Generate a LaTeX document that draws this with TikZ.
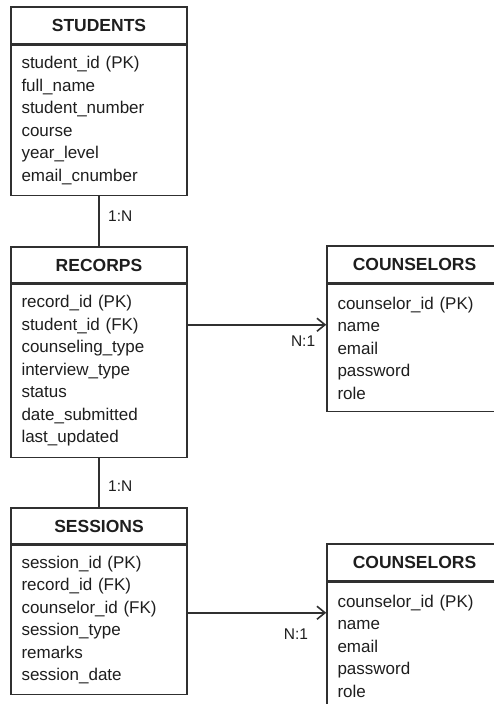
\documentclass[tikz,border=0pt]{standalone}
\usepackage{fontspec}
\setmainfont{Liberation Sans}
\usetikzlibrary{positioning,arrows.meta}

\definecolor{ink}{HTML}{1E1E1E}
\definecolor{edge}{HTML}{303030}

\tikzset{
	tablehead/.style = {draw=edge, line width=1.5pt, text=ink, minimum height=36pt,
		font=\fontsize{17.5}{21}\selectfont\bfseries, inner sep=0pt},
	tablebody/.style = {draw=edge, line width=1.5pt, text=ink, align=left,
		inner xsep=10.5pt, inner ysep=0pt, font=\fontsize{17}{22.5}\selectfont},
	link/.style = {draw=edge, line width=1.6pt},
	card/.style = {text=ink, font=\fontsize{15.5}{18}\selectfont}
}

\begin{document}
\begin{tikzpicture}[x=1pt, y=-1pt]
	\useasboundingbox (0,0) rectangle (494,704);

	% left column
	\node[tablehead, minimum width=176pt, minimum height=37pt] (students) at (99,25.5) {STUDENTS};
	\node[tablebody, text width=155pt, minimum height=150pt, below=0pt of students] (studentsAttrs)
		{student\_id (PK)\\ full\_name\\ student\_number\\ course\\ year\_level\\ email\_cnumber};

	\node[tablehead, minimum width=176pt] (recorps) at (99,265) {RECORPS};
	\node[tablebody, text width=155pt, minimum height=173pt, below=0pt of recorps] (recorpsAttrs)
		{record\_id (PK)\\ student\_id (FK)\\ counseling\_type\\ interview\_type\\ status\\ date\_submitted\\ last\_updated};

	\node[tablehead, minimum width=176pt] (sessions) at (99,526) {SESSIONS};
	\node[tablebody, text width=155pt, minimum height=149pt, below=0pt of sessions] (sessionsAttrs)
		{session\_id (PK)\\ record\_id (FK)\\ counselor\_id (FK)\\ session\_type\\ remarks\\ session\_date};

	% right column
	\node[tablehead, minimum width=175pt, minimum height=37pt] (counselorsA) at (414.5,264.5) {COUNSELORS};
	\node[tablebody, text width=154pt, minimum height=127pt, below=0pt of counselorsA] (counselorsAttrsA)
		{counselor\_id (PK)\\ name\\ email\\ password\\ role};

	\node[tablehead, minimum width=175pt, minimum height=37pt] (counselorsB) at (414.5,562.5) {COUNSELORS};
	\node[tablebody, text width=154pt, minimum height=127pt, below=0pt of counselorsB] (counselorsAttrsB)
		{counselor\_id (PK)\\ name\\ email\\ password\\ role};

	% relations
	\draw[link] (studentsAttrs) -- (recorps) node[card, midway, right, xshift=5pt, yshift=5.5pt] {1:N};
	\draw[link] (recorpsAttrs) -- (sessions) node[card, midway, right, xshift=5pt, yshift=-3pt] {1:N};

	\draw[link, -{Straight Barb[length=8pt, width=13pt]}] ([yshift=-41pt]recorpsAttrs.north east) coordinate (fromRec)
		-- (fromRec -| counselorsAttrsA.west) node[card, at end, anchor=north east, xshift=-7pt, yshift=-7pt] {N:1};
	\draw[link, -{Straight Barb[length=8pt, width=13pt]}] ([yshift=-68pt]sessionsAttrs.north east) coordinate (fromSes)
		-- (fromSes -| counselorsAttrsB.west) node[card, at end, anchor=north east, xshift=-14pt, yshift=-12pt] {N:1};
\end{tikzpicture}
\end{document}
